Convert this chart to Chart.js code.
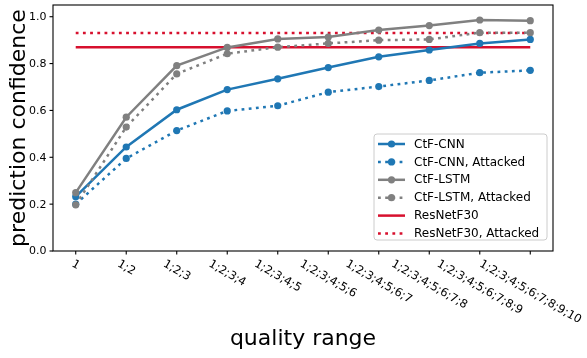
<!DOCTYPE html>
<html><head><meta charset="utf-8">
<script src="https://cdn.jsdelivr.net/npm/chart.js@4"></script>
<style>html,body{margin:0;padding:0;background:#fff}</style>
</head><body>
<canvas id="c" width="587" height="358"></canvas>
<script>
const categories = ['1','1;2','1;2;3','1;2;3;4','1;2;3;4;5','1;2;3;4;5;6','1;2;3;4;5;6;7','1;2;3;4;5;6;7;8','1;2;3;4;5;6;7;8;9','1;2;3;4;5;6;7;8;9;10'];
const ctfCnn      = [0.232,0.444,0.603,0.689,0.735,0.783,0.829,0.858,0.886,0.903];
const ctfCnnAtt   = [0.200,0.395,0.514,0.598,0.620,0.678,0.702,0.728,0.761,0.771];
const ctfLstm     = [0.249,0.571,0.791,0.869,0.905,0.913,0.943,0.962,0.986,0.983];
const ctfLstmAtt  = [0.197,0.529,0.756,0.842,0.870,0.886,0.900,0.903,0.932,0.932];
const resnetF30   = [0.870,0.870,0.870,0.870,0.870,0.870,0.870,0.870,0.870,0.870];
const resnetF30Att= [0.930,0.930,0.930,0.930,0.930,0.930,0.930,0.930,0.930,0.930];
const yTicks = [0.0,0.2,0.4,0.6,0.8,1.0];
const seriesNames = ['CtF-CNN','CtF-CNN, Attacked','CtF-LSTM','CtF-LSTM, Attacked','ResNetF30','ResNetF30, Attacked'];

const BLUE='#1f77b4', GRAY='#808080', RED='#d7102e';
const DOT=[2.8,4.4];
const FONT='"DejaVu Sans", sans-serif';
const toPts = arr => arr.map((v,i)=>({x:i,y:v}));

function ds(label, data, color, dotted, marker, order){
  return {label, data:toPts(data), borderColor:color, backgroundColor:color,
    borderWidth:2.5, borderDash: dotted?DOT:[], borderCapStyle:'butt',
    pointRadius: marker?3.6:0, pointBorderWidth:0, pointBackgroundColor:color,
    pointHoverRadius:0, tension:0, fill:false, order};
}
const datasets = [
  ds(seriesNames[0], ctfCnn, BLUE, false, true, 6),
  ds(seriesNames[1], ctfCnnAtt, BLUE, true, true, 5),
  ds(seriesNames[2], ctfLstm, GRAY, false, true, 4),
  ds(seriesNames[3], ctfLstmAtt, GRAY, true, true, 3),
  ds(seriesNames[4], resnetF30, RED, false, false, 8),
  ds(seriesNames[5], resnetF30Att, RED, true, false, 7),
];

function txt(ctx, s, x, y, rot){
  ctx.save(); ctx.translate(x,y); if(rot) ctx.rotate(rot);
  ctx.fillText(s,0,0); ctx.restore();
}

const deco = {
  id:'deco',
  afterDatasetsDraw(chart){
    const ctx=chart.ctx, a=chart.chartArea, xs=chart.scales.x, ys=chart.scales.y;
    ctx.save();
    ctx.strokeStyle='#000'; ctx.lineWidth=1.1;
    ctx.strokeRect(a.left, a.top, a.right-a.left, a.bottom-a.top);
    ctx.fillStyle='#000'; ctx.font='11px '+FONT;
    ctx.textAlign='right'; ctx.textBaseline='middle';
    yTicks.forEach(v=>{
      const y=ys.getPixelForValue(v);
      ctx.beginPath(); ctx.moveTo(a.left,y); ctx.lineTo(a.left-3.5,y); ctx.stroke();
      txt(ctx, v.toFixed(1), a.left-6.5, y+0.5);
    });
    const ang=30*Math.PI/180, fs=11.5;
    ctx.font=fs+'px '+FONT; ctx.textAlign='center';
    categories.forEach((lab,i)=>{
      const x=xs.getPixelForValue(i);
      ctx.beginPath(); ctx.moveTo(x,a.bottom); ctx.lineTo(x,a.bottom+3.5); ctx.stroke();
      const w=ctx.measureText(lab).width, h=fs*1.15;
      const bh=(w*Math.sin(ang)+h*Math.cos(ang));
      const cy=a.bottom+6.5+bh/2;
      txt(ctx, lab, x, cy, ang);
    });
    ctx.font='22px '+FONT; ctx.textAlign='center'; ctx.textBaseline='middle';
    txt(ctx, 'quality range', (a.left+a.right)/2, 339);
    txt(ctx, 'prediction confidence', 19, (a.top+a.bottom)/2, -Math.PI/2);
    const lx=374, ly=134, lw=173, lh=106, r=3;
    ctx.beginPath();
    ctx.moveTo(lx+r,ly); ctx.lineTo(lx+lw-r,ly); ctx.arcTo(lx+lw,ly,lx+lw,ly+r,r);
    ctx.lineTo(lx+lw,ly+lh-r); ctx.arcTo(lx+lw,ly+lh,lx+lw-r,ly+lh,r);
    ctx.lineTo(lx+r,ly+lh); ctx.arcTo(lx,ly+lh,lx,ly+lh-r,r);
    ctx.lineTo(lx,ly+r); ctx.arcTo(lx,ly,lx+r,ly,r); ctx.closePath();
    ctx.fillStyle='rgba(255,255,255,0.8)'; ctx.fill();
    ctx.strokeStyle='#cccccc'; ctx.lineWidth=1; ctx.stroke();
    ctx.font='12px '+FONT; ctx.textAlign='left'; ctx.textBaseline='middle';
    datasets.forEach((d,i)=>{
      const y=144+17.9*i;
      ctx.strokeStyle=d.borderColor; ctx.lineWidth=2.5; ctx.lineCap='butt';
      ctx.setLineDash(d.borderDash);
      ctx.beginPath(); ctx.moveTo(378,y); ctx.lineTo(405,y); ctx.stroke();
      ctx.setLineDash([]);
      if(d.pointRadius>0){ ctx.fillStyle=d.borderColor; ctx.beginPath(); ctx.arc(391.5,y,3.6,0,Math.PI*2); ctx.fill(); }
      ctx.fillStyle='#000'; txt(ctx, d.label, 414, y+0.5);
    });
    ctx.restore();
  }
};

new Chart(document.getElementById('c'),{
  type:'line',
  data:{datasets},
  options:{
    responsive:false, animation:false, devicePixelRatio:1,
    layout:{padding:{left:53,right:34,top:5,bottom:107}},
    plugins:{legend:{display:false}, tooltip:{enabled:false}},
    scales:{
      x:{type:'linear', min:-0.45, max:9.45, display:false},
      y:{type:'linear', min:0, max:1.05, display:false}
    }
  },
  plugins:[deco]
});
</script>
</body></html>
